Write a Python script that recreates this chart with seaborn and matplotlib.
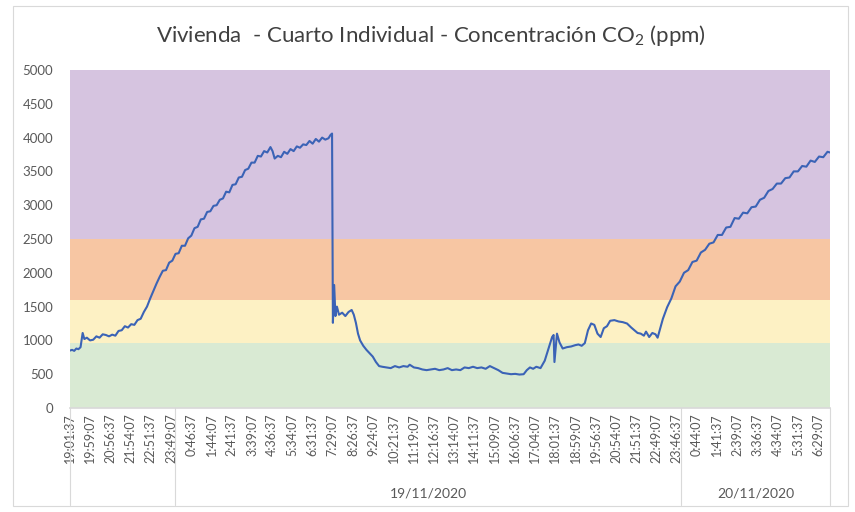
import datetime as dt
import pandas as pd
import matplotlib.pyplot as plt
import matplotlib.dates as mdates
from matplotlib.patches import Rectangle
from matplotlib.lines import Line2D
import seaborn as sns

# hours elapsed since the first reading (18/11/2020 19:01:37)
horas = [
    0.00, 0.10, 0.20, 0.30, 0.40, 0.50, 0.60, 0.68, 0.80, 0.95, 1.10, 1.25, 1.40, 1.55, 1.70, 1.85,
    2.00, 2.15, 2.30, 2.45, 2.60, 2.75, 2.90, 3.05, 3.20, 3.35, 3.50, 3.65, 3.80, 3.95, 4.10, 4.25,
    4.40, 4.55, 4.70, 4.85, 5.00, 5.15, 5.30, 5.45, 5.60, 5.75, 5.90, 6.05, 6.20, 6.35, 6.50, 6.65,
    6.80, 6.95, 7.10, 7.25, 7.40, 7.55, 7.70, 7.85, 8.00, 8.15, 8.30, 8.45, 8.60, 8.75, 8.90, 9.05,
    9.20, 9.35, 9.50, 9.60, 9.70, 9.85, 10.00, 10.15, 10.30, 10.45, 10.60, 10.75, 10.90, 11.05,
    11.20, 11.35, 11.50, 11.65, 11.80, 11.95, 12.10, 12.25, 12.35, 12.42, 12.46, 12.52, 12.58,
    12.65, 12.75, 12.90, 13.05, 13.20, 13.35, 13.45, 13.55, 13.65, 13.75, 13.90, 14.05, 14.20,
    14.35, 14.50, 14.65, 14.80, 15.00, 15.20, 15.40, 15.60, 15.80, 16.00, 16.10, 16.30, 16.50,
    16.70, 16.90, 17.10, 17.30, 17.50, 17.70, 17.90, 18.10, 18.30, 18.50, 18.70, 18.90, 19.10,
    19.30, 19.50, 19.70, 19.90, 20.10, 20.30, 20.50, 20.70, 20.90, 21.10, 21.30, 21.50, 21.65,
    21.80, 21.95, 22.10, 22.30, 22.50, 22.70, 22.85, 22.92, 22.96, 23.08, 23.20, 23.35, 23.55,
    23.75, 23.95, 24.10, 24.25, 24.40, 24.55, 24.70, 24.85, 25.00, 25.15, 25.30, 25.45, 25.60,
    25.80, 26.00, 26.20, 26.40, 26.60, 26.75, 26.90, 27.05, 27.20, 27.30, 27.45, 27.60, 27.75,
    27.85, 27.95, 28.10, 28.30, 28.50, 28.70, 28.90, 29.10, 29.30, 29.50, 29.70, 29.90, 30.10,
    30.30, 30.50, 30.70, 30.90, 31.10, 31.30, 31.50, 31.70, 31.90, 32.10, 32.30, 32.50, 32.70,
    32.90, 33.10, 33.30, 33.50, 33.70, 33.90, 34.10, 34.30, 34.50, 34.70, 34.90, 35.10, 35.30,
    35.50, 35.70, 35.90, 36.02,
]
co2_ppm = [
    850, 860, 845, 880, 870, 900, 1110, 1020, 1040, 1000, 1010, 1060, 1040, 1090, 1080, 1060,
    1085, 1070, 1140, 1150, 1210, 1190, 1240, 1230, 1300, 1320, 1420, 1500, 1620, 1730, 1840, 1940,
    2030, 2040, 2150, 2180, 2280, 2290, 2400, 2400, 2510, 2550, 2660, 2680, 2790, 2800, 2900, 2910,
    2990, 3000, 3080, 3100, 3200, 3190, 3300, 3310, 3410, 3420, 3520, 3540, 3630, 3630, 3730, 3720,
    3800, 3780, 3860, 3800, 3690, 3730, 3710, 3790, 3760, 3830, 3800, 3870, 3850, 3900,
    3890, 3950, 3910, 3980, 3940, 4000, 3970, 3990, 4040, 4060, 1260, 1820, 1360,
    1500, 1380, 1410, 1360, 1420, 1450, 1380, 1260, 1100, 1000, 920, 860, 810,
    760, 680, 620, 610, 600, 590, 620, 600, 620, 610, 640, 600, 590,
    570, 560, 570, 580, 560, 570, 590, 560, 570, 560, 600, 590, 610,
    590, 600, 580, 620, 590, 560, 520, 510, 500, 505, 495, 500, 560,
    600, 580, 610, 590, 700, 900, 1050, 1080, 680, 1100, 970, 880, 900,
    910, 930, 940, 920, 960, 1150, 1250, 1230, 1100, 1050, 1180, 1210, 1290,
    1300, 1280, 1270, 1250, 1190, 1150, 1110, 1100, 1070, 1130, 1050, 1110, 1090,
    1040, 1150, 1320, 1490, 1620, 1800, 1870, 2000, 2040, 2160, 2180, 2300, 2340,
    2430, 2450, 2560, 2560, 2670, 2680, 2810, 2800, 2890, 2880, 2970, 2980, 3080,
    3110, 3210, 3240, 3320, 3320, 3400, 3410, 3500, 3500, 3580, 3570, 3660, 3640,
    3720, 3710, 3790, 3780,
]

# comfort bands (ppm)
bandas = [(0, 960, "#d9ead3"), (960, 1600, "#fdf1c4"), (1600, 2500, "#f7c6a3"), (2500, 5000, "#d6c4e0")]
fechas = ["19/11/2020", "20/11/2020"]

inicio = dt.datetime(2020, 11, 18, 19, 1, 37)
df = pd.DataFrame({
    "hora": [inicio + dt.timedelta(hours=h) for h in horas],
    "ppm": co2_ppm,
})

sns.set_theme(style="white")
plt.rcParams["font.family"] = ["Lato", "DejaVu Sans"]
plt.rcParams["mathtext.fontset"] = "custom"
plt.rcParams["mathtext.rm"] = "Lato"
plt.rcParams["mathtext.it"] = "Lato"

fig = plt.figure(figsize=(8.55, 5.12), dpi=100)
ax = fig.add_axes([70 / 855, 1 - 408 / 512, 760 / 855, 338 / 512])

fin = inicio + dt.timedelta(hours=horas[-1])
for lo, hi, col in bandas:
    ax.axhspan(lo, hi, color=col, zorder=0, lw=0)

sns.lineplot(data=df, x="hora", y="ppm", ax=ax, color="#3b63b6", linewidth=1.5, zorder=3)

ax.set_xlim(inicio, fin)
ax.set_ylim(0, 5000)
ax.set_yticks(range(0, 5001, 500))
ax.tick_params(axis="y", labelsize=9.5, labelcolor="#595959", length=0, pad=12)
ax.set_xlabel("")
ax.set_ylabel("")

ticks = [inicio + dt.timedelta(minutes=57.5 * k) for k in range(38)]
ax.set_xticks(ticks)
ax.set_xticklabels([f"{t.hour}:{t.minute:02d}:{t.second:02d}" for t in ticks],
                   rotation=90, fontsize=9, color="#595959")
ax.tick_params(axis="x", length=0, pad=4)

for s in ["top", "right", "left"]:
    ax.spines[s].set_visible(False)
ax.spines["bottom"].set_color("#d9d9d9")

# date group separators below the axis
trans = ax.get_xaxis_transform()
medianoche1 = dt.datetime(2020, 11, 19)
medianoche2 = dt.datetime(2020, 11, 20)
for x in [inicio, medianoche1, medianoche2, fin]:
    xn = mdates.date2num(x)
    ax.add_line(Line2D([xn, xn], [0, -0.287], transform=trans, color="#d9d9d9",
                       lw=0.8, clip_on=False))
for (a, b), lab in zip([(medianoche1, medianoche2), (medianoche2, fin)], fechas):
    xc = (mdates.date2num(a) + mdates.date2num(b)) / 2
    ax.text(xc, -0.252, lab, transform=trans, ha="center", va="center",
            fontsize=10, color="#595959")

fig.text(431 / 855, 1 - 36 / 512, "Vivienda  - Cuarto Individual - Concentración CO$_2$ (ppm)",
         ha="center", va="center", fontsize=16, color="#404040")

fig.patches.append(Rectangle((13 / 855, 6 / 512), 835 / 855, 500 / 512, transform=fig.transFigure,
                             fill=False, edgecolor="#d9d9d9", lw=0.8))

fig.savefig("out.png", dpi=100)
